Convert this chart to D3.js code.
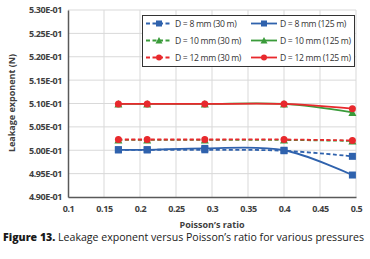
<!DOCTYPE html>
<html><head><meta charset="utf-8">
<script src="https://cdn.jsdelivr.net/npm/d3@7"></script>
<style>body{margin:0;background:#fff}svg{display:block}</style>
</head><body>
<svg id="c" width="370" height="259"></svg>
<script>
const xVals = [0.17, 0.21, 0.29, 0.4, 0.495];
const d8_30 = [0.5001, 0.5001, 0.5001, 0.4999, 0.4987];
const d8_125 = [0.5001, 0.5001, 0.5004, 0.5000, 0.4947];
const d10_30 = [0.5022, 0.5022, 0.5022, 0.5022, 0.5020];
const d10_125 = [0.5099, 0.5099, 0.5099, 0.5099, 0.5081];
const d12_30 = [0.5023, 0.5023, 0.5023, 0.5023, 0.5021];
const d12_125 = [0.5099, 0.5099, 0.5099, 0.5099, 0.5089];
const xTicks = [0.1, 0.15, 0.2, 0.25, 0.3, 0.35, 0.4, 0.45, 0.5];
const yTicks = [0.49, 0.495, 0.5, 0.505, 0.51, 0.515, 0.52, 0.525, 0.53];
const seriesNames = ["D = 8 mm (30 m)", "D = 10 mm (30 m)", "D = 12 mm (30 m)", "D = 8 mm (125 m)", "D = 10 mm (125 m)", "D = 12 mm (125 m)"];

const blue = "#2f62ad", green = "#3a9b3a", red = "#e8292d";
const series = [
  {name: seriesNames[0], vals: d8_30, color: blue, dash: "4,2.5", marker: "square"},
  {name: seriesNames[1], vals: d10_30, color: green, dash: "4,2.5", marker: "triangle"},
  {name: seriesNames[2], vals: d12_30, color: red, dash: "4,2.5", marker: "circle"},
  {name: seriesNames[3], vals: d8_125, color: blue, dash: null, marker: "square"},
  {name: seriesNames[4], vals: d10_125, color: green, dash: null, marker: "triangle"},
  {name: seriesNames[5], vals: d12_125, color: red, dash: null, marker: "circle"}
];

const svg = d3.select("#c");
const L = 68, R = 356, T = 10, B = 197;
const x = d3.scaleLinear().domain([0.1, 0.5]).range([L, R]);
const y = d3.scaleLinear().domain([0.49, 0.53]).range([B, T]);
const tickFont = "'Open Sans', sans-serif";

// gridlines
svg.append("g").selectAll("line.v").data(xTicks.slice(1)).join("line")
  .attr("x1", d => x(d)).attr("x2", d => x(d)).attr("y1", T).attr("y2", B)
  .attr("stroke", "#d9d9d9").attr("stroke-width", 1);
svg.append("g").selectAll("line.h").data(yTicks.slice(1)).join("line")
  .attr("x1", L).attr("x2", R).attr("y1", d => y(d)).attr("y2", d => y(d))
  .attr("stroke", "#d9d9d9").attr("stroke-width", 1);

// axes
const xAxis = svg.append("g").attr("transform", `translate(0,${B})`)
  .call(d3.axisBottom(x).tickValues(xTicks).tickSize(0).tickPadding(9).tickFormat(d => String(d)));
const yAxis = svg.append("g").attr("transform", `translate(${L},0)`)
  .call(d3.axisLeft(y).tickValues(yTicks).tickSize(0).tickPadding(6)
    .tickFormat(d => d3.format(".2e")(d).replace("e-1", "E-01").replace("e+0","E+00")));
[xAxis, yAxis].forEach(a => {
  a.select(".domain").attr("stroke", "#595959").attr("stroke-width", 1.5);
  a.selectAll("text").attr("font-family", tickFont).attr("font-size", 9)
    .attr("font-weight", 700).attr("fill", "#404040").attr("letter-spacing", -0.4);
});

// lines
const line = d3.line().x(d => x(d[0])).y(d => y(d[1])).curve(d3.curveCatmullRom.alpha(0.5));
function marker(g, type, cx, cy, color, s) {
  if (type === "square") g.append("rect").attr("x", cx - s).attr("y", cy - s).attr("width", 2 * s).attr("height", 2 * s).attr("fill", color);
  else if (type === "circle") g.append("circle").attr("cx", cx).attr("cy", cy).attr("r", s).attr("fill", color);
  else g.append("path").attr("d", `M${cx},${cy - s - 0.5}L${cx + s + 0.5},${cy + s}L${cx - s - 0.5},${cy + s}Z`).attr("fill", color);
}
const drawOrder = [1, 4, 0, 3, 2, 5];
drawOrder.forEach(i => {
  const s = series[i];
  const pts = xVals.map((xv, j) => [xv, s.vals[j]]);
  const g = svg.append("g");
  g.append("path").attr("d", line(pts)).attr("fill", "none").attr("stroke", s.color)
    .attr("stroke-width", 1.8).attr("stroke-dasharray", s.dash);
  pts.forEach(p => marker(g, s.marker, x(p[0]), y(p[1]), s.color, 3.5));
});

// legend
const lg = svg.append("g");
lg.append("rect").attr("x", 142.5).attr("y", 15.5).attr("width", 212).attr("height", 51)
  .attr("fill", "#fff").attr("stroke", "#333").attr("stroke-width", 1);
const rowsY = [23.5, 40.5, 57.5];
series.forEach((s, i) => {
  const col = Math.floor(i / 3), row = i % 3;
  const lx = col === 0 ? 146 : 251, ly = rowsY[row];
  lg.append("line").attr("x1", lx).attr("x2", lx + 26).attr("y1", ly).attr("y2", ly)
    .attr("stroke", s.color).attr("stroke-width", 1.8).attr("stroke-dasharray", s.dash);
  marker(lg, s.marker, lx + 13, ly, s.color, 3);
  lg.append("text").attr("x", lx + 29).attr("y", ly + 3).text(s.name)
    .attr("font-family", tickFont).attr("font-size", 8.6).attr("fill", "#333").attr("letter-spacing", -0.3);
});

// axis titles
svg.append("text").attr("transform", "translate(15,103) rotate(-90)").attr("text-anchor", "middle")
  .attr("font-family", tickFont).attr("font-size", 9).attr("font-weight", 700).attr("fill", "#404040")
  .text("Leakage exponent (N)");
svg.append("text").attr("x", 212).attr("y", 228).attr("text-anchor", "middle")
  .attr("font-family", tickFont).attr("font-size", 9).attr("font-weight", 700).attr("fill", "#404040")
  .text("Poisson’s ratio");

// caption
const cap = svg.append("text").attr("x", 3).attr("y", 241).attr("font-family", "'Open Sans', sans-serif")
  .attr("font-size", 10.5).attr("fill", "#1a1a1a").attr("textLength", 361).attr("lengthAdjust", "spacingAndGlyphs");
cap.append("tspan").attr("font-weight", 800).text("Figure 13. ");
cap.append("tspan").text("Leakage exponent versus Poisson’s ratio for various pressures");
</script>
</body></html>
